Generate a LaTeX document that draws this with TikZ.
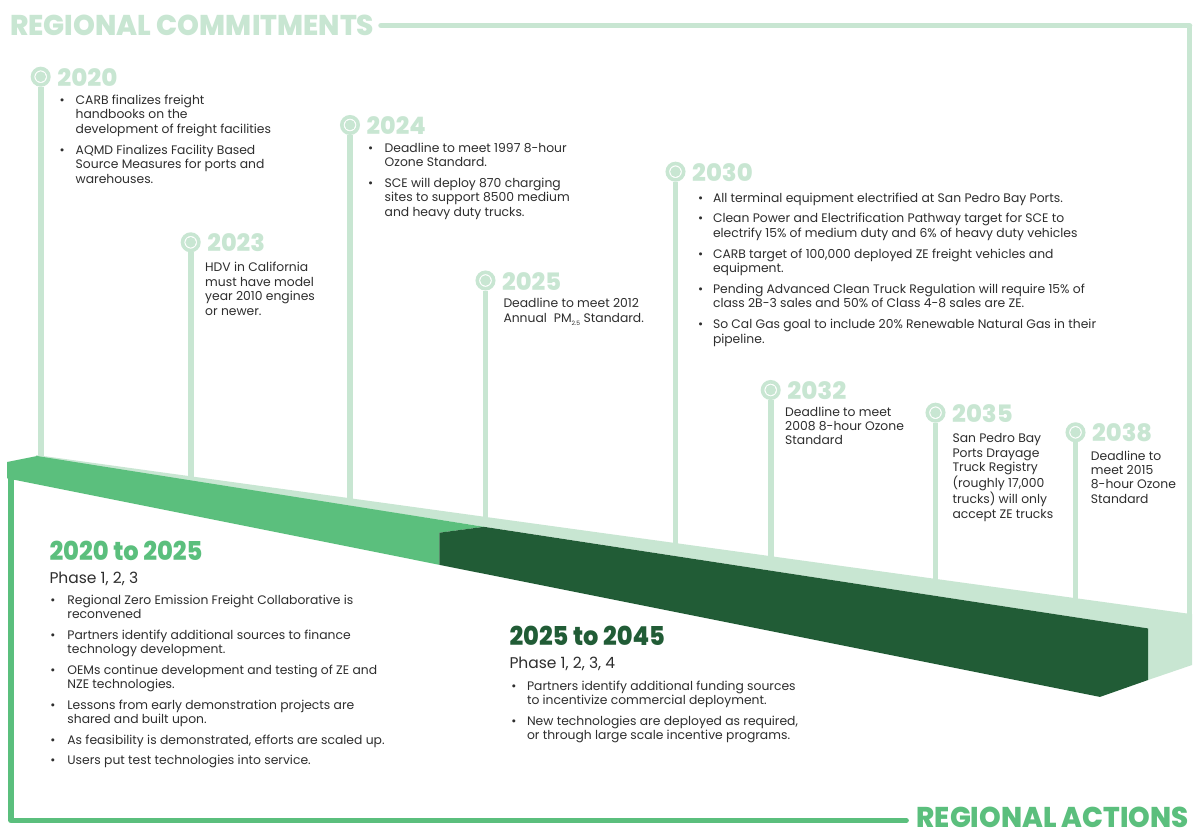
\documentclass[tikz,border=0pt]{standalone}
\usepackage{fontspec}
\usepackage{graphicx}
\setmainfont{Poppins}
\newfontfamily\heavy{Poppins ExtraBold}
\definecolor{lg}{HTML}{C8E6D2}
\definecolor{mg}{HTML}{5BBF7D}
\definecolor{dg}{HTML}{215C36}
\definecolor{tx}{HTML}{2E2E2E}
\newcommand\blist[2]{\begin{tabular}[t]{@{}p{#1}@{}l@{}}#2\end{tabular}}
\newcommand\plist[1]{\begin{tabular}[t]{@{}l@{}}#1\end{tabular}}
\newcommand\fitw[2]{\resizebox{#1}{\height}{#2}}
\tikzset{
  ring/.style={circle, draw=lg, line width=3.6pt, minimum size=16.4pt, inner sep=0pt},
  stem/.style={draw=lg, line width=5.8pt},
  year/.style={anchor=base west, inner sep=0pt, text=lg, font=\fontsize{24}{24}\selectfont\heavy},
  body/.style={anchor=base west, inner sep=0pt, text=tx, font=\fontsize{12.35}{14.4}\selectfont},
  big/.style={anchor=base west, inner sep=0pt, font=\fontsize{28.6}{30}\selectfont\heavy},
  phead/.style={anchor=base west, inner sep=0pt, font=\fontsize{26}{28}\selectfont\heavy},
  phase/.style={anchor=base west, inner sep=0pt, text=tx, font=\fontsize{15.5}{18}\selectfont},
}
\begin{document}
\begin{tikzpicture}[x=1pt,y=-1pt]
\useasboundingbox (0,0) rectangle (1193,831);
\fill[white] (0,0) rectangle (1193,831);

% titles and frame
\node[big, text=lg] (rc) at (10,35) {\fitw{364pt}{REGIONAL COMMITMENTS}};
\node[big, text=mg] (ra) at (916.5,827.8) {\fitw{272pt}{REGIONAL ACTIONS}};
\coordinate (t1) at (381,25.5);
\coordinate (t2) at (1189.5,25.5);
\coordinate (t3) at (1189.5,615);
\draw[lg, line width=5.5pt, line cap=round] (t1) -- (t2);
\draw[lg, line width=5.5pt] (t2) -- (t3);
\coordinate (b1) at (11,470);
\coordinate (b2) at (11,820.5);
\coordinate (b3) at (906,820.5);
\draw[mg, line width=5.7pt] (b1) -- (b2);
\draw[mg, line width=5.7pt, line cap=round] (b2) -- (b3);

% milestones
\foreach \n/\cx/\cy/\w in {2020/40.7/76.7/60, 2023/190.7/242.3/57.5, 2024/350/125/59, 2025/485.5/280.5/59, 2030/675.5/171.7/60.5, 2032/770.7/390/59, 2035/935.5/412.7/60.5, 2038/1075.5/432.3/60}{
  \coordinate (e\n) at (\cx,{460.7+0.138*(\cx-80)+3});
  \node[ring] (c\n) at (\cx,\cy) {};
  \fill[lg] (c\n.center) circle (5.3pt);
  \draw[stem] (c\n.south) -- (e\n);
  \node[year] (y\n) at (\cx+16.5,\cy+9.5) {\fitw{\w pt}{\n}};
}

% slab
\fill[lg] (36,455) -- (1192,614.2) -- (1192,665) -- (1148,680) -- (1148,628.4) -- (36,458) -- cycle;
\fill[mg] (7,462) -- (37,456) -- (484,526.8) -- (439.3,532.7) -- (439.3,564.8) -- (7,478.3) -- cycle;
\fill[dg] (439.3,532.7) -- (484,526.8) -- (1148,628.4) -- (1148,680) -- (1100,696.9) -- (439.3,564.8) -- cycle;

% texts
\node[body] (t2020) at (59.5,104.5) {\blist{16pt}{%
\textbullet & CARB finalizes freight\\ & handbooks on the\\ & development of freight facilities\\[6.8pt]
\textbullet & AQMD Finalizes Facility Based\\ & Source Measures for ports and\\ & warehouses.}};
\node[body, font=\fontsize{12.35}{14.8}\selectfont] (t2023) at (205,271.2) {\plist{HDV in California\\must have model\\year 2010 engines\\or newer.}};
\node[body] (t2024) at (367.8,152.2) {\blist{16.7pt}{%
\textbullet & Deadline to meet 1997 8-hour\\ & Ozone Standard.\\[6.2pt]
\textbullet & SCE will deploy 870 charging\\ & sites to support 8500 medium\\ & and heavy duty trucks.}};
\node[body, font=\fontsize{12.35}{15}\selectfont] (t2025) at (503.3,307.8) {\plist{Deadline to meet 2012\\Annual\hspace{7pt}PM\raisebox{-2.5pt}{\fontsize{6}{6}\selectfont 2.5}\hspace{3.5pt}Standard.}};
\node[body] (t2030) at (697.8,202.2) {\blist{15pt}{%
\textbullet & All terminal equipment electrified at San Pedro Bay Ports.\\[6.2pt]
\textbullet & Clean Power and Electrification Pathway target for SCE to\\ & electrify 15\% of medium duty and 6\% of heavy duty vehicles\\[6.5pt]
\textbullet & CARB target of 100,000 deployed ZE freight vehicles and\\ & equipment.\\[6.5pt]
\textbullet & Pending Advanced Clean Truck Regulation will require 15\% of\\ & class 2B-3 sales and 50\% of Class 4-8 sales are ZE.\\[6.5pt]
\textbullet & So Cal Gas goal to include 20\% Renewable Natural Gas in their\\ & pipeline.}};
\node[body, font=\fontsize{12.35}{14.2}\selectfont] (t2032) at (785,416.2) {\plist{Deadline to meet\\2008 8-hour Ozone\\Standard}};
\node[body, font=\fontsize{12.35}{14.5}\selectfont] (t2035) at (952.3,442.8) {\plist{San Pedro Bay\\Ports Drayage\\Truck Registry\\(roughly 17,000\\trucks) will only\\accept ZE trucks}};
\node[body, font=\fontsize{12.35}{14.3}\selectfont] (t2038) at (1090.7,460.2) {\plist{Deadline to\\meet 2015\\8-hour Ozone\\Standard}};

% bottom blocks
\node[phead, text=mg] (h1) at (49.3,560) {\fitw{153pt}{2020 to 2025}};
\node[phase] (p1) at (49.3,583.3) {Phase 1, 2, 3};
\node[body, font=\fontsize{12.35}{14.3}\selectfont] (l1) at (50.2,604.5) {\blist{17pt}{%
\textbullet & Regional Zero Emission Freight Collaborative is\\ & reconvened\\[6.4pt]
\textbullet & Partners identify additional sources to finance\\ & technology development.\\[6.4pt]
\textbullet & OEMs continue development and testing of ZE and\\ & NZE technologies.\\[6.4pt]
\textbullet & Lessons from early demonstration projects are\\ & shared and built upon.\\[6.4pt]
\textbullet & As feasibility is demonstrated, efforts are scaled up.\\[5.7pt]
\textbullet & Users put test technologies into service.}};
\node[phead, text=dg] (h2) at (509.3,645) {\fitw{155.5pt}{2025 to 2045}};
\node[phase] (p2) at (509.3,668) {Phase 1, 2, 3, 4};
\node[body, font=\fontsize{12.35}{14.3}\selectfont] (l2) at (511.2,690.2) {\blist{15.6pt}{%
\textbullet & Partners identify additional funding sources\\ & to incentivize commercial deployment.\\[6.7pt]
\textbullet & New technologies are deployed as required,\\ & or through large scale incentive programs.}};
\end{tikzpicture}
\end{document}
